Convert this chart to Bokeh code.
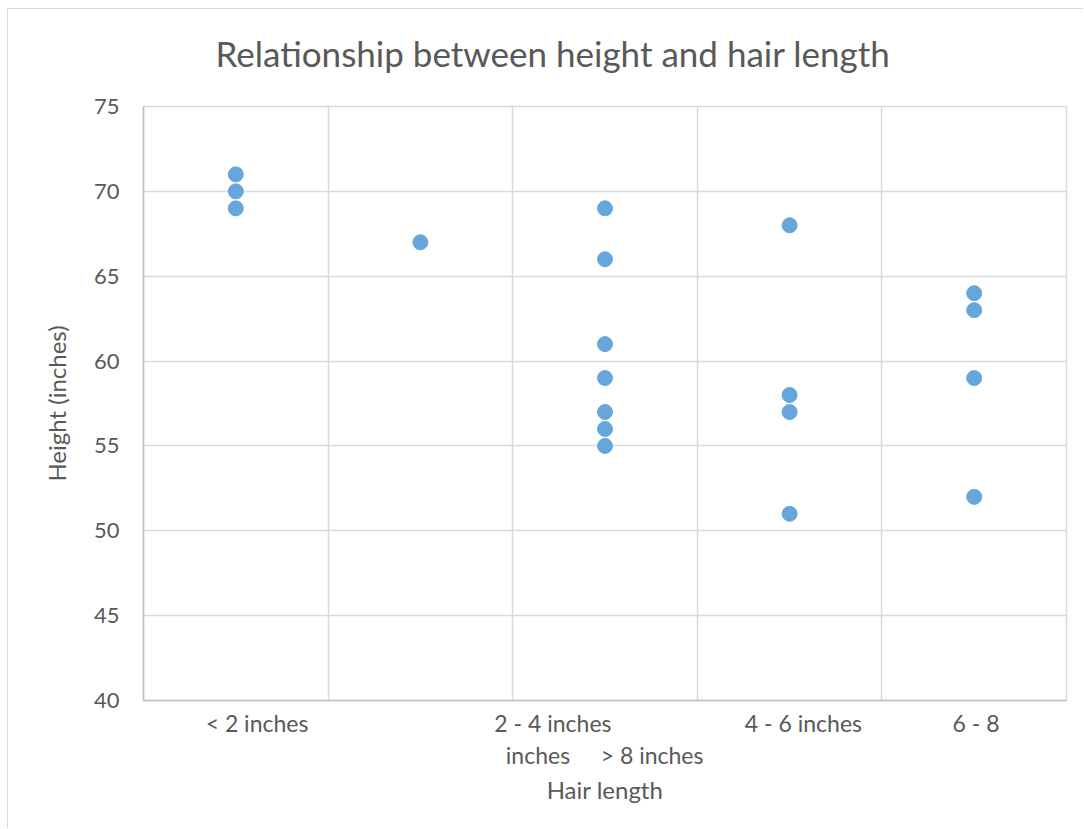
from bokeh.plotting import figure
from bokeh.models import FixedTicker, LinearAxis, Title
from bokeh.embed import file_html
from bokeh.resources import INLINE

# ---- data (heights in inches, grouped by hair-length category index) ----
group_1 = [71, 70, 69]
group_2 = [67]
group_3 = [69, 66, 61, 59, 57, 56, 55]
group_4 = [68, 58, 57, 51]
group_5 = [64, 63, 59, 52]
groups = [group_1, group_2, group_3, group_4, group_5]

x_tick_labels = ["< 2 inches", "2 - 4 inches", "4 - 6 inches", "6 - 8"]
x_tick_wrap = ["inches", "> 8 inches"]
y_ticks = [40, 45, 50, 55, 60, 65, 70, 75]
title_text = "Relationship between height and hair length"
x_title = "Hair length"
y_title = "Height (inches)"

# ---- positions / styles ----
x_tick_pos = [1.115, 2.718, 4.075, 5.01]
wrap_pos = [2.637, 3.255]
FONT = "Lato"
TXT = "#595959"
GRID = "#D9D9D9"

xs, ys = [], []
for i, g in enumerate(groups, start=1):
    for h in g:
        xs.append(i)
        ys.append(h)

p = figure(width=1076, height=820, x_range=(0.5, 5.5), y_range=(40, 75),
           output_backend="svg", toolbar_location=None,
           min_border_left=135, min_border_right=18, min_border_top=97,
           min_border_bottom=129)
p.styles = {"margin-left": "7px", "margin-top": "8px",
            "border-top": "1px solid #D9D9D9", "border-left": "1px solid #D9D9D9"}
p.outline_line_color = GRID
p.outline_line_width = 1.5

# title: blank spacer next to the frame, then the real title above it
p.title.text = ""
p.add_layout(Title(text=" ", text_font_size="10px", standoff=19), "above")
p.add_layout(Title(text=title_text, align="left", offset=72, text_font=FONT,
                   text_font_size="35px", text_font_style="normal", text_color=TXT,
                   vertical_align="middle", standoff=0), "above")

p.scatter(xs, ys, size=15, fill_color="#67A6DA", line_color="#67A6DA")

# grids
p.xgrid.ticker = FixedTicker(ticks=[0.5, 1.5, 2.5, 3.5, 4.5, 5.5])
p.xgrid.grid_line_color = GRID
p.xgrid.grid_line_width = 1.5
p.ygrid.grid_line_color = GRID
p.ygrid.grid_line_width = 1.5

# x axis (first label row)
p.xaxis.ticker = FixedTicker(ticks=x_tick_pos)
p.xaxis.major_label_overrides = {pos: lab for pos, lab in zip(x_tick_pos, x_tick_labels)}
# y axis
p.yaxis.ticker = FixedTicker(ticks=y_ticks)
p.yaxis.axis_label = y_title

# second label row + axis title
ax2 = LinearAxis(ticker=FixedTicker(ticks=wrap_pos),
                 major_label_overrides={pos: lab for pos, lab in zip(wrap_pos, x_tick_wrap)},
                 axis_label=x_title)
p.add_layout(ax2, "below")

for ax in (p.xaxis[0], ax2, p.yaxis[0]):
    ax.axis_line_color = "#BFBFBF"
    ax.axis_line_width = 1.5
    ax.major_tick_line_color = None
    ax.minor_tick_line_color = None
    ax.major_tick_out = 0
    ax.major_tick_in = 0
    ax.minor_tick_out = 0
    ax.minor_tick_in = 0
    ax.major_label_text_font = FONT
    ax.major_label_text_font_size = "23px"
    ax.major_label_text_color = TXT
    ax.axis_label_text_font = FONT
    ax.axis_label_text_font_size = "24px"
    ax.axis_label_text_color = TXT
    ax.axis_label_text_font_style = "normal"

p.yaxis.major_label_text_font_size = "22px"
ax2.axis_line_color = None
p.xaxis[0].major_label_standoff = 8
ax2.major_label_standoff = 1
ax2.axis_label_standoff = 3
p.yaxis.major_label_standoff = 24
p.yaxis.axis_label_standoff = 20

open("out.html", "w").write(file_html(p, INLINE))
